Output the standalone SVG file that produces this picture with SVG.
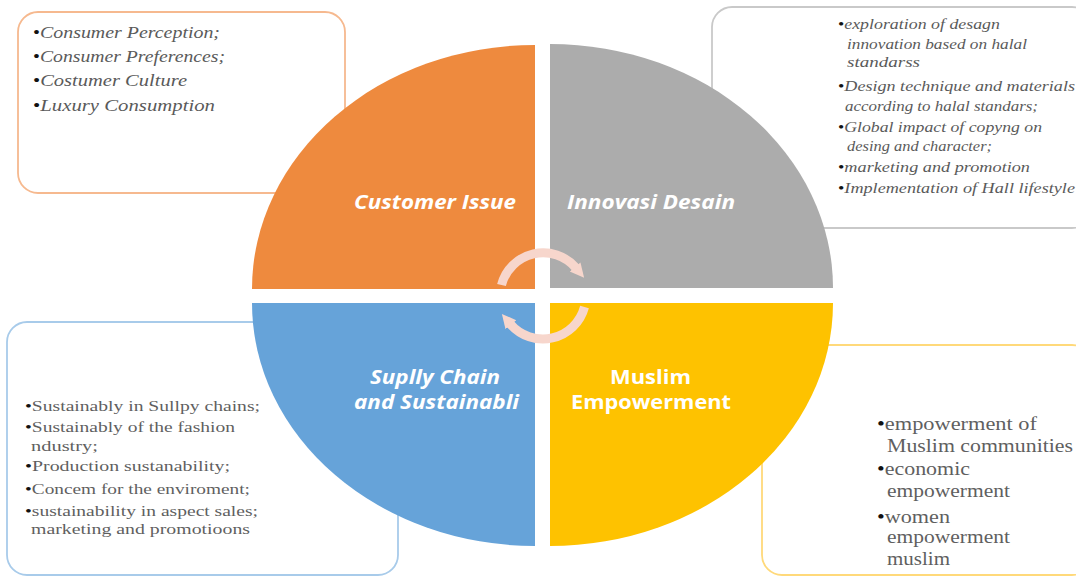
<svg xmlns="http://www.w3.org/2000/svg" width="1076" height="576" viewBox="0 0 1076 576">
<style>
.box{fill:#fff;stroke-width:1.8}
.it{font-family:"Liberation Serif",serif;font-style:italic;fill:#5a5a5a}
.rg{font-family:"Liberation Serif",serif;fill:#5f5f5f}
.b{fill:#111;font-style:normal}
.lbl{font-family:"Open Sans","Liberation Sans",sans-serif;font-weight:bold;font-size:19px;fill:#fff}
.arc{fill:none;stroke:#F7D6CC;stroke-width:9}
</style>
<defs>
<marker id="ah" viewBox="0 0 10 10" refX="1" refY="5" markerUnits="userSpaceOnUse" markerWidth="14" markerHeight="19" orient="auto">
<path d="M0,0 L10,5 L0,10 z" fill="#F7D6CC"/>
</marker>
</defs>
<rect width="1076" height="576" fill="#fff"/>

<g id="box-customer">
<rect class="box" x="18" y="12" width="327" height="181" rx="20" stroke="#F6B98F"/>
<g class="it" font-size="17">
<text x="33" y="38" textLength="187" lengthAdjust="spacingAndGlyphs"><tspan class="b">•</tspan>Consumer  Perception;</text>
<text x="33" y="62" textLength="192" lengthAdjust="spacingAndGlyphs"><tspan class="b">•</tspan>Consumer  Preferences;</text>
<text x="33" y="86" textLength="154" lengthAdjust="spacingAndGlyphs"><tspan class="b">•</tspan>Costumer  Culture</text>
<text x="33" y="111" textLength="182" lengthAdjust="spacingAndGlyphs"><tspan class="b">•</tspan>Luxury  Consumption</text>
</g>
</g>

<g id="box-innovasi">
<rect class="box" x="712" y="7" width="380" height="221" rx="20" stroke="#C9C9C9"/>
<g class="it" font-size="14.5">
<text x="838" y="29" textLength="162" lengthAdjust="spacingAndGlyphs"><tspan class="b">•</tspan>exploration of desagn</text>
<text x="847" y="49" textLength="180" lengthAdjust="spacingAndGlyphs">innovation based on halal</text>
<text x="847" y="67" textLength="73" lengthAdjust="spacingAndGlyphs">standarss</text>
<text x="838" y="91" textLength="237" lengthAdjust="spacingAndGlyphs"><tspan class="b">•</tspan>Design technique and materials</text>
<text x="845" y="111" textLength="193" lengthAdjust="spacingAndGlyphs">according to halal standars;</text>
<text x="838" y="132" textLength="204" lengthAdjust="spacingAndGlyphs"><tspan class="b">•</tspan>Global impact of copyng on</text>
<text x="847" y="151" textLength="145" lengthAdjust="spacingAndGlyphs">desing and character;</text>
<text x="838" y="172" textLength="192" lengthAdjust="spacingAndGlyphs"><tspan class="b">•</tspan>marketing and promotion</text>
<text x="838" y="193" textLength="237" lengthAdjust="spacingAndGlyphs"><tspan class="b">•</tspan>Implementation of Hall lifestyle</text>
</g>
</g>

<g id="box-supply">
<rect class="box" x="7" y="322" width="391" height="253" rx="20" stroke="#A8CBEA"/>
<g class="rg" font-size="15">
<text x="25" y="411" textLength="235" lengthAdjust="spacingAndGlyphs"><tspan class="b">•</tspan>Sustainably in Sullpy  chains;</text>
<text x="25" y="432" textLength="210" lengthAdjust="spacingAndGlyphs"><tspan class="b">•</tspan>Sustainably of the fashion</text>
<text x="31" y="451" textLength="67" lengthAdjust="spacingAndGlyphs">ndustry;</text>
<text x="25" y="471" textLength="205" lengthAdjust="spacingAndGlyphs"><tspan class="b">•</tspan>Production sustanability;</text>
<text x="25" y="494" textLength="225" lengthAdjust="spacingAndGlyphs"><tspan class="b">•</tspan>Concem for the enviroment;</text>
<text x="25" y="516" textLength="233" lengthAdjust="spacingAndGlyphs"><tspan class="b">•</tspan>sustainability in aspect sales;</text>
<text x="31" y="534" textLength="219" lengthAdjust="spacingAndGlyphs">marketing and promotioons</text>
</g>
</g>

<g id="box-muslim">
<rect class="box" x="762" y="345" width="330" height="230" rx="20" stroke="#FFD97A"/>
<g class="rg" font-size="18">
<text x="877" y="430" textLength="160" lengthAdjust="spacingAndGlyphs"><tspan class="b">•</tspan>empowerment of</text>
<text x="887" y="452" textLength="186" lengthAdjust="spacingAndGlyphs">Muslim communities</text>
<text x="877" y="475" textLength="93" lengthAdjust="spacingAndGlyphs"><tspan class="b">•</tspan>economic</text>
<text x="887" y="497" textLength="123" lengthAdjust="spacingAndGlyphs">empowerment</text>
<text x="877" y="523" textLength="73" lengthAdjust="spacingAndGlyphs"><tspan class="b">•</tspan>women</text>
<text x="887" y="543" textLength="123" lengthAdjust="spacingAndGlyphs">empowerment</text>
<text x="887" y="565" textLength="63" lengthAdjust="spacingAndGlyphs">muslim</text>
</g>
</g>

<g id="q-customer">
<path d="M535,289 L252,289 A283,244 0 0 1 535,45 Z" fill="#EE8A3E"/>
<text class="lbl" font-style="italic" x="354" y="209" textLength="162" lengthAdjust="spacingAndGlyphs">Customer Issue</text>
</g>
<g id="q-innovasi">
<path d="M550,288 L550,44 A283,244 0 0 1 833,288 Z" fill="#ACACAC"/>
<text class="lbl" font-style="italic" font-weight="600" x="567" y="209" textLength="168" lengthAdjust="spacingAndGlyphs">Innovasi Desain</text>
</g>
<g id="q-supply">
<path d="M535,303 L535,546 A283,243 0 0 1 252,303 Z" fill="#66A3D9"/>
<text class="lbl" font-style="italic" x="370" y="384" textLength="130" lengthAdjust="spacingAndGlyphs">Suplly Chain</text>
<text class="lbl" font-style="italic" x="354" y="409" textLength="165" lengthAdjust="spacingAndGlyphs">and Sustainabli</text>
</g>
<g id="q-muslim">
<path d="M550,303 L833,303 A283,243 0 0 1 550,546 Z" fill="#FEC200"/>
<text class="lbl" x="610" y="384" textLength="81" lengthAdjust="spacingAndGlyphs">Muslim</text>
<text class="lbl" x="571" y="409" textLength="160" lengthAdjust="spacingAndGlyphs">Empowerment</text>
</g>

<g id="connectors">
<path class="arc" d="M501.5,285 A43,43 0 0 1 576,268" marker-end="url(#ah)"/>
<path class="arc" d="M584.5,307 A43,43 0 0 1 510,323.6" marker-end="url(#ah)"/>
</g>
</svg>
